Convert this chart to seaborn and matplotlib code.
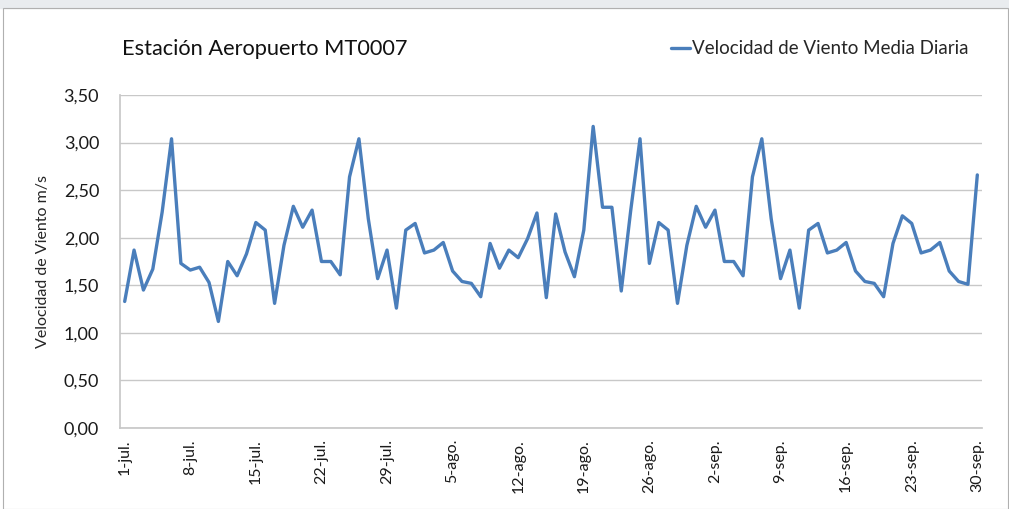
import matplotlib
matplotlib.use("Agg")
import matplotlib.pyplot as plt
import seaborn as sns
import pandas as pd

# daily mean wind speed, 1-jul .. 30-sep (92 days)
dias = pd.date_range("2014-07-01", "2014-09-30", freq="D")
velocidad = [
    1.33, 1.87, 1.45, 1.67, 2.27, 3.04, 1.73, 1.66, 1.69, 1.53,
    1.12, 1.75, 1.60, 1.83, 2.16, 2.08, 1.31, 1.92, 2.33, 2.11,
    2.29, 1.75, 1.75, 1.61, 2.64, 3.04, 2.20, 1.57, 1.87, 1.26,
    2.08, 2.15, 1.84, 1.87, 1.95, 1.65, 1.54, 1.52, 1.38, 1.94,
    1.68, 1.87, 1.79, 1.99, 2.26, 1.37, 2.25, 1.85, 1.59, 2.08,
    3.17, 2.32, 2.32, 1.44, 2.28, 3.04, 1.73, 2.16, 2.08, 1.31,
    1.92, 2.33, 2.11, 2.29, 1.75, 1.75, 1.60, 2.64, 3.04, 2.20,
    1.57, 1.87, 1.26, 2.08, 2.15, 1.84, 1.87, 1.95, 1.65, 1.54,
    1.52, 1.38, 1.94, 2.23, 2.15, 1.84, 1.87, 1.95, 1.65, 1.54,
    1.51, 2.66,
]
etiquetas_x = ["1-jul.", "8-jul.", "15-jul.", "22-jul.", "29-jul.", "5-ago.",
               "12-ago.", "19-ago.", "26-ago.", "2-sep.", "9-sep.", "16-sep.",
               "23-sep.", "30-sep."]
ticks_y = [0.0, 0.5, 1.0, 1.5, 2.0, 2.5, 3.0, 3.5]

df = pd.DataFrame({"fecha": dias, "velocidad": velocidad})

sns.set_theme(style="white")
plt.rcParams["font.family"] = ["Lato", "DejaVu Sans"]

fig = plt.figure(figsize=(10.09, 5.09), dpi=100)
ax = fig.add_axes([120 / 1009, 1 - 428 / 509, 862 / 1009, 333 / 509])

sns.lineplot(data=df, x="fecha", y="velocidad", ax=ax, color="#4A7EBB",
             linewidth=2.4, label="Velocidad de Viento Media Diaria", legend=False)

ax.set_ylim(0, 3.5)
ax.set_yticks(ticks_y)
ax.set_yticklabels([f"{v:.2f}".replace(".", ",") for v in ticks_y], fontsize=13)
ax.set_xlim(dias[0] - pd.Timedelta(hours=12), dias[-1] + pd.Timedelta(hours=12))
ax.set_xticks(dias[::7])
ax.set_xticklabels(etiquetas_x, rotation=90, fontsize=11.5)
ax.tick_params(axis="both", length=0, pad=8, colors="#1a1a1a")
ax.tick_params(axis="y", pad=15)
ax.yaxis.grid(True, color="#C8C8C8", linewidth=1)
ax.set_axisbelow(True)
for side in ["top", "right"]:
    ax.spines[side].set_visible(False)
ax.spines["left"].set_color("#C8C8C8")
ax.spines["bottom"].set_color("#C8C8C8")
ax.set_xlabel("")
ax.set_ylabel("Velocidad de Viento m/s", fontsize=11.5, labelpad=10)

fig.text(122 / 1009, 1 - 49 / 509, "Estación Aeropuerto MT0007", fontsize=15.7,
         va="center", ha="left", color="#111111")
fig.legend(handles=ax.get_lines()[:1], labels=["Velocidad de Viento Media Diaria"],
           loc="center right", bbox_to_anchor=(968 / 1009, 1 - 49 / 509),
           frameon=False, fontsize=13.5, handlelength=1.0, handletextpad=0.1,
           borderaxespad=0, borderpad=0)

# light frame like the original screenshot
fig.patches.append(plt.Rectangle((0, 1 - 8 / 509), 1, 8 / 509, transform=fig.transFigure,
                                 color="#E9ECEF", zorder=-1))
fig.patches.append(plt.Rectangle((3 / 1009, 0), 1 - 4 / 1009, 1 - 8 / 509, transform=fig.transFigure,
                                 fill=False, edgecolor="#B0B0B0", linewidth=0.8))

fig.savefig("out.png", dpi=100)
